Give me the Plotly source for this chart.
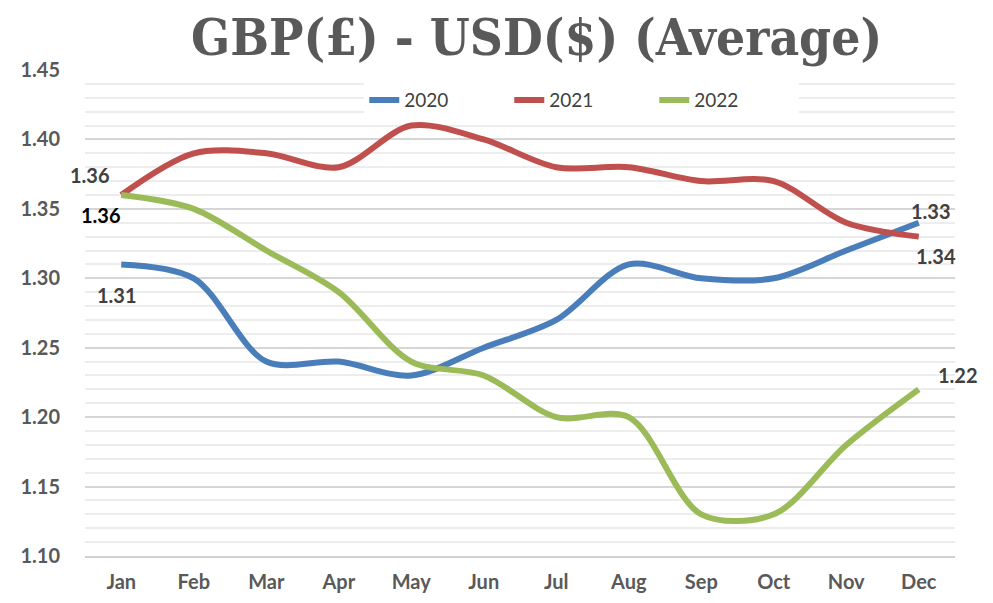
import plotly.graph_objects as go

months = ["Jan", "Feb", "Mar", "Apr", "May", "Jun", "Jul", "Aug", "Sep", "Oct", "Nov", "Dec"]
y2020 = [1.31, 1.30, 1.24, 1.24, 1.23, 1.25, 1.27, 1.31, 1.30, 1.30, 1.32, 1.34]
y2021 = [1.36, 1.39, 1.39, 1.38, 1.41, 1.40, 1.38, 1.38, 1.37, 1.37, 1.34, 1.33]
y2022 = [1.36, 1.35, 1.32, 1.29, 1.24, 1.23, 1.20, 1.20, 1.13, 1.13, 1.18, 1.22]
series_names = ["2020", "2021", "2022"]
colors = ["#4A7EBB", "#C0504D", "#9BBB59"]
y_ticks = [1.10, 1.15, 1.20, 1.25, 1.30, 1.35, 1.40, 1.45]
# data labels shown in the original (text as printed)
label_texts = ["1.36", "1.36", "1.31", "1.33", "1.34", "1.22"]
label_series = [1, 2, 0, 0, 1, 2]
label_idx = [0, 0, 0, 11, 11, 11]

fig = go.Figure()
for name, vals, col in zip(series_names, [y2020, y2021, y2022], colors):
    fig.add_trace(go.Scatter(
        x=months, y=vals, name=name, mode="lines",
        line=dict(color=col, width=6, shape="spline", smoothing=0.9),
    ))

all_series = [y2020, y2021, y2022]
offsets = [(-31, 20), (-20, -20), (-4, -31), (12, 12), (17, -19), (39, 14)]
lab_colors = ["#404040", "#000000", "#404040", "#404040", "#404040", "#404040"]
for t, s, i, (dx, dy), c in zip(label_texts, label_series, label_idx, offsets, lab_colors):
    fig.add_annotation(
        x=months[i], y=all_series[s][i], xref="x", yref="y", text=t,
        showarrow=False, xshift=dx, yshift=dy,
        font=dict(family="Lato", size=20, color=c, weight="bold"),
    )

fig.update_layout(
    width=985, height=595,
    margin=dict(l=77, r=38, t=62, b=47),
    paper_bgcolor="white", plot_bgcolor="white",
    title=dict(
        text="GBP(£) - USD($) (Average)",
        x=0.5366, xanchor="center", y=0.951, yanchor="middle",
        font=dict(family="DejaVu Serif Condensed", size=51, color="#595959", weight="bold"),
    ),
    legend=dict(
        orientation="h", x=0.571, xanchor="center", y=0.938, yanchor="middle",
        bgcolor="white", font=dict(family="Lato", size=19, color="#404040"),
        entrywidth=100, tracegroupgap=0,
    ),
    showlegend=True,
    font=dict(family="Lato"),
)
fig.update_xaxes(
    type="category", range=[-0.5, 11.5], showgrid=False, automargin=False,
    showline=True, linecolor="#d0d0d0", linewidth=2,
    ticks="", tickfont=dict(family="Lato", size=20, color="#595959", weight="bold"),
    ticklabelstandoff=7,
)
fig.update_yaxes(
    range=[1.10, 1.45], tickvals=y_ticks, tickformat=".2f", automargin=False,
    showgrid=True, gridcolor="#d6d6d6", gridwidth=2,
    minor=dict(dtick=0.01, showgrid=True, gridcolor="#ededed", gridwidth=1.5),
    zeroline=False, ticks="",
    tickfont=dict(family="Lato", size=20, color="#595959", weight="bold"),
    ticklabelstandoff=24,
)
fig.write_html("out.html")
